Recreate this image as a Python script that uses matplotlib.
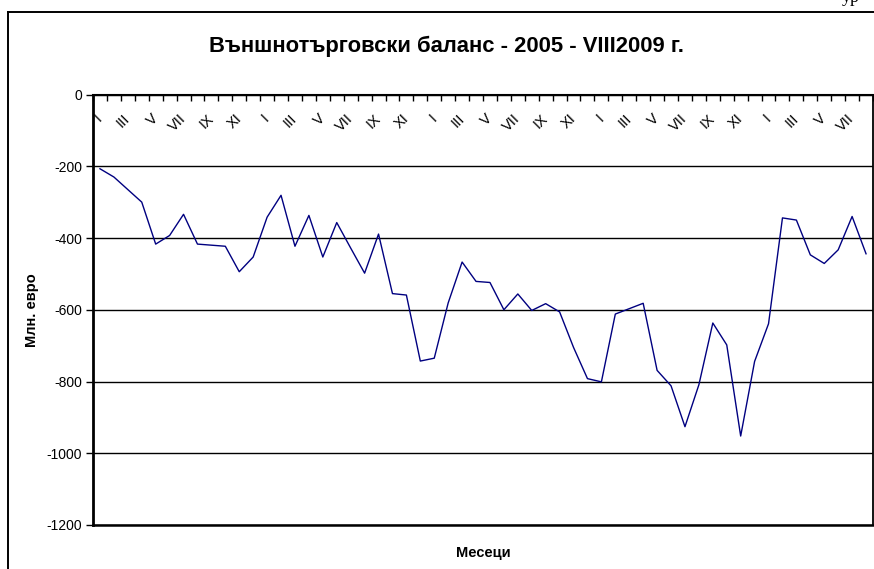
import matplotlib
matplotlib.use("Agg")
import matplotlib.pyplot as plt
import matplotlib.transforms as mtransforms
from matplotlib.lines import Line2D

# ---- data -------------------------------------------------------------
months = ["I", "II", "III", "IV", "V", "VI", "VII", "VIII", "IX", "X", "XI", "XII"]
categories = [m for y in range(2005, 2009) for m in months] + months[:8]
shown_labels = ["I", "III", "V", "VII", "IX", "XI"] * 4 + ["I", "III", "V", "VII"]
balance = [
    -207, -230, -265, -300, -417, -393, -334, -417, -420, -423, -494, -453,   # 2005
    -342, -281, -423, -337, -453, -357, -428, -498, -389, -555, -559, -743,   # 2006
    -735, -581, -467, -521, -524, -600, -556, -602, -583, -606, -705, -792,   # 2007
    -801, -612, -597, -582, -769, -812, -926, -809, -637, -698, -952, -744,   # 2008
    -639, -344, -350, -447, -471, -433, -340, -444,                           # 2009 I-VIII
]
y_ticks = [0, -200, -400, -600, -800, -1000, -1200]

title = "Външнотърговски баланс - 2005 - VIII2009 г."
y_label = "Млн. евро"
x_label = "Месеци"

# ---- figure -----------------------------------------------------------
W, H = 874, 569
plt.rcParams["font.family"] = ["Liberation Sans", "DejaVu Sans"]
fig = plt.figure(figsize=(W / 100, H / 100), dpi=100)

def fx(px):
    return px / W

def fy(py):
    return 1 - py / H

ax = fig.add_axes([fx(93), fy(525), fx(873) - fx(93), fy(94.5) - fy(525)])

n = len(balance)
x = list(range(n))
ax.plot(x, balance, color="#000080", lw=1.0, zorder=3)

ax.set_xlim(-0.5, n - 0.5)
ax.set_ylim(-1200, 0)

# y axis
ax.set_yticks(y_ticks)
ax.set_yticklabels([str(v) for v in y_ticks], fontsize=10)
ax.tick_params(axis="y", direction="out", length=5, width=1, pad=3, colors="black")
ax.yaxis.grid(True, color="black", lw=1.0)
ax.set_axisbelow(True)

# x axis: category boundary ticks on the top (zero) line, pointing down
ax.set_xticks([i - 0.5 for i in range(n + 1)], minor=True)
ax.set_xticks([])
ax.tick_params(axis="x", which="minor", top=True, bottom=False, direction="in",
               length=4, width=1, labelbottom=False, labeltop=False)

for sp in ax.spines.values():
    sp.set_color("black")
ax.spines["left"].set_linewidth(2.0)
ax.spines["top"].set_linewidth(1.5)
ax.spines["right"].set_linewidth(1.3)
ax.spines["bottom"].set_linewidth(1.8)

# rotated roman month labels (every second month)
trans = mtransforms.blended_transform_factory(ax.transData, ax.transAxes)
offset = mtransforms.ScaledTranslation(0, -22 / 100, fig.dpi_scale_trans)
lab_i = 0
for i in range(0, n, 2):
    ax.text(i, 1.0, shown_labels[lab_i], transform=trans + offset, rotation=45,
            rotation_mode="anchor", ha="right", va="center", fontsize=10.5)
    lab_i += 1

ax.set_ylabel(y_label, fontsize=10.5, fontweight="bold", labelpad=5)
ax.set_xlabel(x_label, fontsize=10.5, fontweight="bold", labelpad=15)

fig.text(fx(446), fy(46), title, fontsize=15.8, fontweight="bold",
         ha="center", va="center")

# outer chart frame
fig.add_artist(Line2D([fx(8), fx(8)], [fy(12), fy(H + 5)], color="black", lw=1.4,
                      transform=fig.transFigure))
fig.add_artist(Line2D([fx(8), fx(W + 5)], [fy(12), fy(12)], color="black", lw=1.4,
                      transform=fig.transFigure))

# page text at the top-right corner (cut by the page edge in the original)
fig.text(fx(842), fy(2.5), "ур", fontsize=13, family=["Liberation Serif"],
         ha="left", va="baseline")

fig.savefig("out.png", dpi=100)
